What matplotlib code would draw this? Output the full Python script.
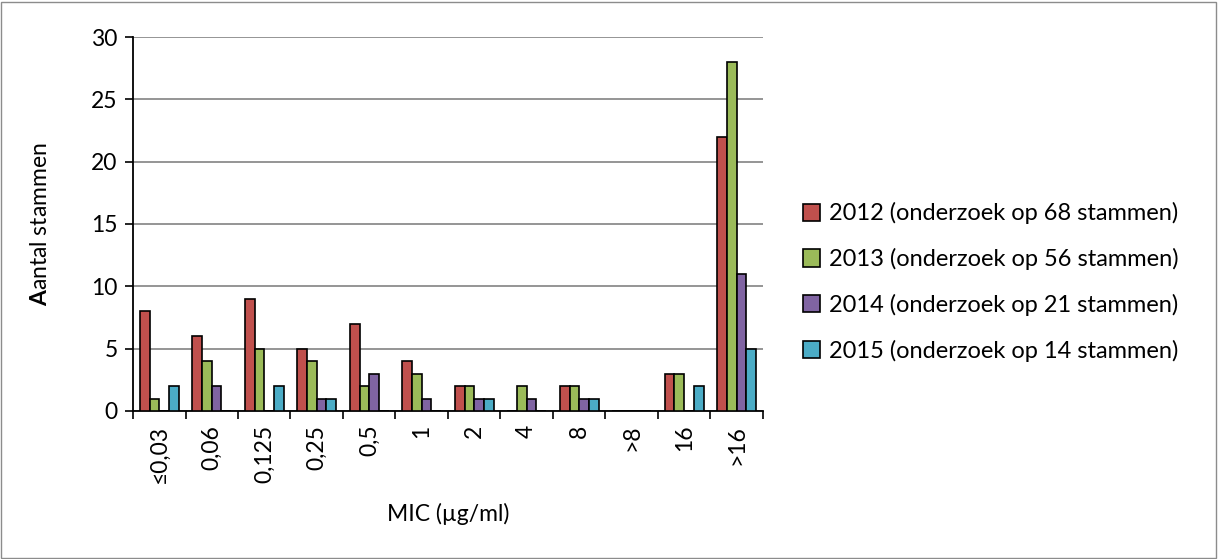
import numpy as np
import matplotlib.pyplot as plt
from matplotlib.patches import Rectangle

plt.rcParams['font.family'] = ['Lato', 'DejaVu Sans']
plt.rcParams['mathtext.fontset'] = 'custom'
plt.rcParams['mathtext.rm'] = 'Lato'
plt.rcParams['mathtext.bf'] = 'Lato:bold'

categories = ['≤0,03', '0,06', '0,125', '0,25', '0,5', '1', '2', '4', '8', '>8', '16', '>16']
series_labels = ['2012 (onderzoek op 68 stammen)',
                 '2013 (onderzoek op 56 stammen)',
                 '2014 (onderzoek op 21 stammen)',
                 '2015 (onderzoek op 14 stammen)']
v2012 = [8, 6, 9, 5, 7, 4, 2, 0, 2, 0, 3, 22]
v2013 = [1, 4, 5, 4, 2, 3, 2, 2, 2, 0, 3, 28]
v2014 = [0, 2, 0, 1, 3, 1, 1, 1, 1, 0, 0, 11]
v2015 = [2, 0, 2, 1, 0, 0, 1, 0, 1, 0, 2, 5]
colors = ['#C0504D', '#9BBB59', '#8064A2', '#4BACC6']

fs = 16.5
fig = plt.figure(figsize=(12.18, 5.59), dpi=100)
ax = fig.add_axes([0.1092, 0.2648, 0.5172, 0.669])

x = np.arange(len(categories))
w = 0.185
for k, (vals, lab, c) in enumerate(zip([v2012, v2013, v2014, v2015], series_labels, colors)):
    ax.bar(x + (k - 1.5) * w, vals, w, color=c, edgecolor='black', linewidth=1.2,
           label=lab, zorder=3)

ax.set_xlim(-0.5, len(categories) - 0.5)
ax.set_ylim(0, 30)
ax.set_yticks(range(0, 31, 5))
ax.yaxis.grid(True, color='#8c8c8c', linewidth=1.3, zorder=0)
ax.set_axisbelow(True)

ax.set_xticks(x)
ax.set_xticklabels(categories, rotation=90, fontsize=fs)
ax.set_xticks(np.arange(-0.5, len(categories)), minor=True)
ax.tick_params(axis='x', which='major', length=0, pad=10)
ax.tick_params(axis='x', which='minor', length=6, width=1.2, direction='out')
ax.tick_params(axis='y', length=6, width=1.2, labelsize=fs, pad=5)

for s in ['top', 'right']:
    ax.spines[s].set_visible(False)
for s in ['left', 'bottom']:
    ax.spines[s].set_linewidth(1.3)

ax.set_xlabel('MIC (µg/ml)', fontsize=fs)
ax.xaxis.set_label_coords(0.5, -0.245)
ax.set_ylabel(r'$\mathbf{A}$antal stammen', fontsize=fs)
ax.yaxis.set_label_coords(-0.13, 0.5)

ax.legend(loc='center left', bbox_to_anchor=(1.063, 0.345), frameon=False,
          fontsize=17, handlelength=0.75, handleheight=0.75, handletextpad=0.35,
          labelspacing=1.0, borderpad=0, borderaxespad=0)

fig.patches.append(Rectangle((0.001, 0.002), 0.997, 0.995, transform=fig.transFigure,
                             fill=False, edgecolor='#8c8c8c', linewidth=1))

fig.savefig('out.png', dpi=100)
